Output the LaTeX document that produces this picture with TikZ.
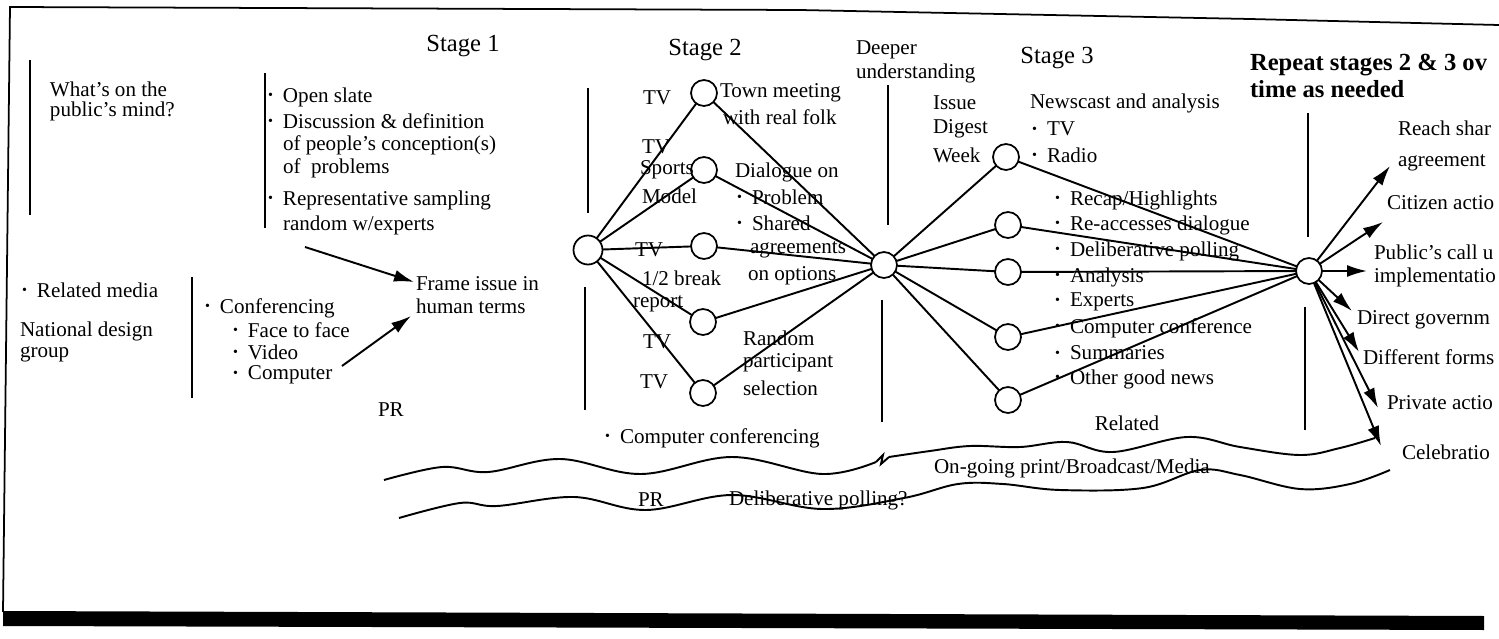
\documentclass[tikz,border=0pt]{standalone}
\usepackage{fontspec}
\setmainfont{Liberation Serif}
\usetikzlibrary{arrows.meta}
\newcommand{\mybul}{\makebox[0.3cm][l]{\raisebox{0.12em}{\fontsize{8}{8}\selectfont\textbullet}}}
\begin{document}
\begin{tikzpicture}[x=0.02cm,y=-0.02cm,
  every node/.style={inner sep=0pt, outer sep=0pt},
  lbl/.style={anchor=west, font=\fontsize{12}{13}\selectfont},
  clbl/.style={font=\fontsize{12}{13}\selectfont},
  hd/.style={font=\fontsize{14}{16}\selectfont},
  hdb/.style={anchor=west, font=\fontsize{14}{16}\selectfont\bfseries},
  circ/.style={circle, draw, line width=1pt, minimum size=0.52cm, fill=white},
  conn/.style={line width=1.1pt},
  sepline/.style={line width=1.1pt},
  arr/.style={line width=1.1pt, -{Latex[length=0.4cm,width=0.24cm]}},
  wave/.style={line width=1.1pt},
]
\useasboundingbox (0,0) rectangle (1499,639);
\clip (0,0) rectangle (1499,639);

% frame
\draw[line width=1pt] (1499,25) -- (1250,19) -- (800,10) -- (10,7) -- (3,612);
\fill (3,611) -- (1484,616) -- (1484,630) -- (3,626) -- cycle;

% separator lines
\draw[sepline] (30,60) -- (30,215);
\draw[sepline] (265,73) -- (265,228);
\draw[sepline] (192,277) -- (192,398);
\draw[sepline] (588,88) -- (588,213);
\draw[sepline] (585,287) -- (585,410);
\draw[sepline] (888,85) -- (888,225);
\draw[sepline] (882,300) -- (882,422);
\draw[sepline] (1308,113) -- (1308,237);
\draw[sepline] (1305,307) -- (1305,430);

% headings
\node[hd] (st1) at (463,46) {Stage 1};
\node[hd] (st2) at (705,50) {Stage 2};
\node[hd] (st3) at (1057,58) {Stage 3};
\node[lbl] (deep1) at (856,50) {Deeper};
\node[lbl] (deep2) at (856,73) {understanding};
\node[hdb] (rep1) at (1250,65) {Repeat stages 2 \& 3 ov};
\node[hdb] (rep2) at (1250,89) {time as needed};

% left column
\node[lbl] (wm1) at (50,89) {What's on the};
\node[lbl] (wm2) at (50,111) {public's mind?};
\node[lbl] (rm) at (22,290) {\mybul Related media};
\node[lbl] (nd1) at (20,331) {National design};
\node[lbl] (nd2) at (20,354) {group};
\node[lbl] (cf1) at (205,308) {\mybul Conferencing};
\node[lbl] (cf2) at (233,330) {\mybul Face to face};
\node[lbl] (cf3) at (233,352) {\mybul Video};
\node[lbl] (cf4) at (233,375) {\mybul Computer};

% stage 1 list
\node[lbl] (os1) at (268,97) {\mybul Open slate};
\node[lbl] (os2) at (268,121) {\mybul Discussion \& definition};
\node[lbl] (os3) at (283,145) {of people's conception(s)};
\node[lbl] (os4) at (283,168) {of\ \ problems};
\node[lbl] (os5) at (268,200) {\mybul Representative sampling};
\node[lbl] (os6) at (283,225) {random w/experts};
\node[lbl] (fr1) at (416,284) {Frame issue in};
\node[lbl] (fr2) at (416,306) {human terms};
\node[lbl] (pr1) at (378,410) {PR};
\coordinate (a1s) at (305,247);
\coordinate (a1e) at (414,282);
\coordinate (a2s) at (342,366);
\coordinate (a2e) at (411,316);
\draw[arr] (a1s) -- (a1e);
\draw[arr] (a2s) -- (a2e);

% stage 2 circles
\node[circ, minimum size=0.58cm] (s2L) at (588,250) {};
\node[circ] (s2a) at (704,93) {};
\node[circ] (s2b) at (704,170) {};
\node[circ] (s2c) at (704,246) {};
\node[circ] (s2d) at (703,322) {};
\node[circ] (s2e) at (703,393) {};
\node[circ] (hub) at (884,265) {};

% stage 3 circles
\node[circ] (s3a) at (1006,157) {};
\node[circ] (s3b) at (1008,225) {};
\node[circ] (s3c) at (1008,272) {};
\node[circ] (s3d) at (1008,337) {};
\node[circ] (s3e) at (1008,400) {};
\node[circ] (R) at (1309,271) {};

% stage 2 labels
\node[lbl] (tv1) at (643,98) {TV};
\node[lbl] (tv2) at (642,147) {TV};
\node[lbl] (sp1) at (640,170) {Sports};
\node[lbl] (sp2) at (642,196) {Model};
\node[lbl] (tv3) at (635,250) {TV};
\node[lbl] (hb1) at (642,278) {1/2 break};
\node[lbl] (hb2) at (633,304) {report};
\node[lbl] (tv4) at (643,342) {TV};
\node[lbl] (tv5) at (640,382) {TV};
\node[lbl] (tm1) at (720,93) {Town meeting};
\node[lbl] (tm2) at (723,117) {with real folk};
\node[lbl] (dl1) at (735,172) {Dialogue on};
\node[lbl] (dl2) at (737,197) {\mybul Problem};
\node[lbl] (dl3) at (737,223) {\mybul Shared};
\node[lbl] (dl4) at (750,250) {agreements};
\node[lbl] (dl5) at (748,276) {on options};
\node[lbl] (rp1) at (743,338) {Random};
\node[lbl] (rp2) at (743,363) {participant};
\node[lbl] (rp3) at (743,388) {selection};
\node[lbl] (cc) at (605,438) {\mybul Computer conferencing};

% stage 3 labels
\node[lbl] (id1) at (933,103) {Issue};
\node[lbl] (id2) at (933,129) {Digest};
\node[lbl] (id3) at (933,155) {Week};
\node[lbl] (nc1) at (1030,103) {Newscast and analysis};
\node[lbl] (nc2) at (1032,129) {\mybul TV};
\node[lbl] (nc3) at (1032,155) {\mybul Radio};
\node[lbl] (l1) at (1055,200) {\mybul Recap/Highlights};
\node[lbl] (l2) at (1055,225) {\mybul Re-accesses dialogue};
\node[lbl] (l3) at (1055,251) {\mybul Deliberative polling};
\node[lbl] (l4) at (1055,277) {\mybul Analysis};
\node[lbl] (l5) at (1055,302) {\mybul Experts};
\node[lbl] (l6) at (1055,328) {\mybul Computer conference};
\node[lbl] (l7) at (1055,353) {\mybul Summaries};
\node[lbl] (l8) at (1055,379) {\mybul Other good news};
\node[clbl] (rel) at (1127,423) {Related};

% bottom wave texts
\node[lbl] (og) at (934,468) {On-going print/Broadcast/Media};
\node[lbl] (pr2) at (638,500) {PR};
\node[lbl] (dp) at (729,500) {Deliberative polling?};

% right texts
\node[lbl] (o1) at (1398,128) {Reach shar};
\node[lbl] (o2) at (1398,163) {agreement};
\node[lbl] (o3) at (1387,203) {Citizen actio};
\node[lbl] (o4) at (1374,252) {Public's call u};
\node[lbl] (o5) at (1374,277) {implementatio};
\node[lbl] (o6) at (1357,320) {Direct governm};
\node[lbl] (o7) at (1363,357) {Different forms};
\node[lbl] (o8) at (1387,403) {Private actio};
\node[lbl] (o9) at (1402,452) {Celebratio};

% connectors stage 2
\foreach \c in {s2a,s2b,s2c,s2d,s2e}{
  \draw[conn] (s2L) -- (\c);
  \draw[conn] (\c) -- (hub);
}
% connectors stage 3
\foreach \c in {s3a,s3b,s3c,s3d,s3e}{
  \draw[conn] (hub) -- (\c);
  \draw[conn] (\c) -- (R);
}

% arrows from R
\coordinate (t1) at (1390,166);
\coordinate (t2) at (1383,222);
\coordinate (t3) at (1367,271);
\coordinate (t4) at (1352,311);
\coordinate (t5) at (1359,352);
\coordinate (t6) at (1378,408);
\coordinate (t7) at (1381,446);
\foreach \t in {t1,t2,t3,t4,t5,t6,t7}{
  \draw[arr] (R) -- (\t);
}

% waves
\draw[wave] plot[smooth, tension=0.6] coordinates {(384,480) (442,467) (488,472) (560,459) (641,474) (732,457) (822,474) (876,462)};
\draw[wave] (876,462) -- (883,455) -- (881,464) -- (889,457);
\draw[wave] plot[smooth, tension=0.6] coordinates {(889,457) (930,451) (970,446) (1020,447) (1067,442) (1113,452) (1187,437) (1240,447) (1300,455) (1340,448) (1375,438)};
\draw[wave] plot[smooth, tension=0.6] coordinates {(399,518) (460,503) (497,506) (574,497) (646,510) (732,495) (822,509) (904,498) (958,484) (1003,484) (1060,490) (1143,488) (1200,470) (1240,475) (1300,489) (1350,484) (1390,470)};
\end{tikzpicture}
\end{document}
